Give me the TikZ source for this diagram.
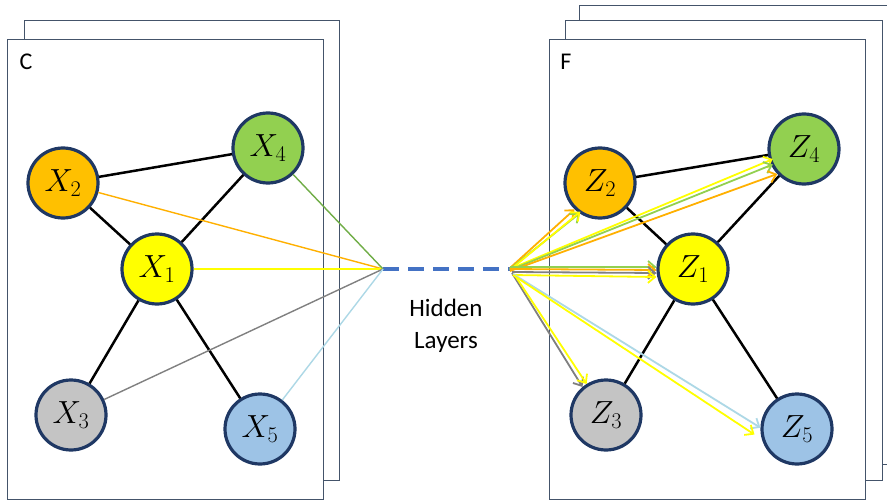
\RequirePackage{fix-cm}
\documentclass[tikz,border=0pt]{standalone}
\usepackage{fontspec}
\setmainfont{Carlito}
\usetikzlibrary{arrows.meta}
\definecolor{navy}{HTML}{1F3864}
\definecolor{panelc}{HTML}{44546A}
\definecolor{corange}{HTML}{FFC000}
\definecolor{cgreen}{HTML}{92D050}
\definecolor{cyellow}{HTML}{FFFF00}
\definecolor{cgray}{HTML}{C4C4C4}
\definecolor{cblue}{HTML}{9DC3E6}
\definecolor{lorange}{HTML}{FFB000}
\definecolor{lgreen}{HTML}{70AD47}
\definecolor{lgray}{HTML}{808080}
\definecolor{lblue}{HTML}{ADD8E6}
\definecolor{dashc}{HTML}{4472C4}
\begin{document}
\begin{tikzpicture}[x=1pt,y=-1pt,
  panel/.style={draw=panelc,line width=1pt,fill=white},
  var/.style={circle,draw=navy,line width=3.2pt,minimum size=70pt,inner sep=0pt,
    font=\fontsize{32}{32}\selectfont},
  edge/.style={line width=2.5pt,black},
  feed/.style={line width=1.4pt},
  arr/.style={line width=1.8pt,-{Straight Barb[length=7pt,width=12pt]}},
  lab/.style={font=\fontsize{24}{28}\selectfont,anchor=center}
]
\useasboundingbox (0,0) rectangle (887,503);
\clip (0,0) rectangle (887,503);
% panels
\draw[panel] (24,21) rectangle (339,480);
\draw[panel] (7,40) rectangle (323,499);
\draw[panel] (579,6) rectangle (900,464);
\draw[panel] (565,21) rectangle (882,480);
\draw[panel] (549,40) rectangle (865,499);
\node[lab] (lc) at (26,62) {C};
\node[lab] (lf) at (566,62) {F};
% left nodes
\node[var,fill=cgreen]  (x4) at (268,148) {$X_{4}$};
\node[var,fill=corange] (x2) at (63,183)  {$X_{2}$};
\node[var,fill=cyellow] (x1) at (157,269) {$X_{1}$};
\node[var,fill=cgray]   (x3) at (71,415)  {$X_{3}$};
\node[var,fill=cblue]   (x5) at (260,429) {$X_{5}$};
% right nodes
\node[var,fill=cgreen]  (z4) at (804,149) {$Z_{4}$};
\node[var,fill=corange] (z2) at (600,183) {$Z_{2}$};
\node[var,fill=cyellow] (z1) at (693,269) {$Z_{1}$};
\node[var,fill=cgray]   (z3) at (606,415) {$Z_{3}$};
\node[var,fill=cblue]   (z5) at (797,429) {$Z_{5}$};
% hidden
\coordinate (hl) at (383,269);
\coordinate (hr) at (510,269);
\draw[dashc,line width=3.5pt,dash pattern=on 16pt off 9pt] (hl) -- (hr);
\node[font=\fontsize{25}{32}\selectfont,align=center] (hid) at (446,326) {Hidden\\Layers};
% black edges
\draw[edge] (x2) -- (x4);
\draw[edge] (x2) -- (x1);
\draw[edge] (x4) -- (x1);
\draw[edge] (x1) -- (x3);
\draw[edge] (x1) -- (x5);
\draw[edge] (z2) -- (z4);
\draw[edge] (z2) -- (z1);
\draw[edge] (z4) -- (z1);
\draw[edge] (z1) -- (z3);
\draw[edge] (z1) -- (z5);
% left feeds
\draw[feed,lorange] (x2) -- (hl);
\draw[feed,cyellow] (x1) -- (hl);
\draw[feed,lgreen] (x4) -- (hl);
\draw[feed,lgray] (x3) -- (hl);
\draw[feed,lblue] (x5) -- (hl);
% right arrows
\draw[arr,lorange] ([yshift=1pt]hr) -- (z2.226);
\draw[arr,cgreen] ([yshift=0pt]hr) -- (z2.236);
\draw[arr,cyellow] ([yshift=-1pt]hr) -- ([shift={(-3pt,4pt)}]z2.243);
\draw[arr,cyellow] ([yshift=0pt]hr) -- ([shift={(4pt,0pt)}]z4.196);
\draw[arr,cgreen] ([yshift=-1pt]hr) -- ([shift={(2pt,0pt)}]z4.205);
\draw[arr,lorange] ([yshift=-2pt]hr) -- (z4.223);
\draw[arr,cgreen] ([yshift=2pt]hr) -- ([yshift=2pt]z1.west);
\draw[arr,lorange] ([yshift=0pt]hr) -- ([yshift=-1pt]z1.west);
\draw[arr,lgray] ([shift={(2pt,-3pt)}]hr) -- ([yshift=-4pt]z1.west);
\draw[arr,cyellow] ([shift={(2pt,-6pt)}]hr) -- ([yshift=-8pt]z1.west);
\draw[arr,lgray] ([shift={(2pt,-4pt)}]hr) -- (z3.130);
\draw[arr,cyellow] ([shift={(4pt,-5pt)}]hr) -- (z3.122);
\draw[arr,lblue] ([shift={(3pt,-5pt)}]hr) -- (z5.178);
\draw[arr,cyellow] ([shift={(3pt,-6pt)}]hr) -- ([shift={(-6pt,-3pt)}]z5.184);
\end{tikzpicture}
\end{document}
